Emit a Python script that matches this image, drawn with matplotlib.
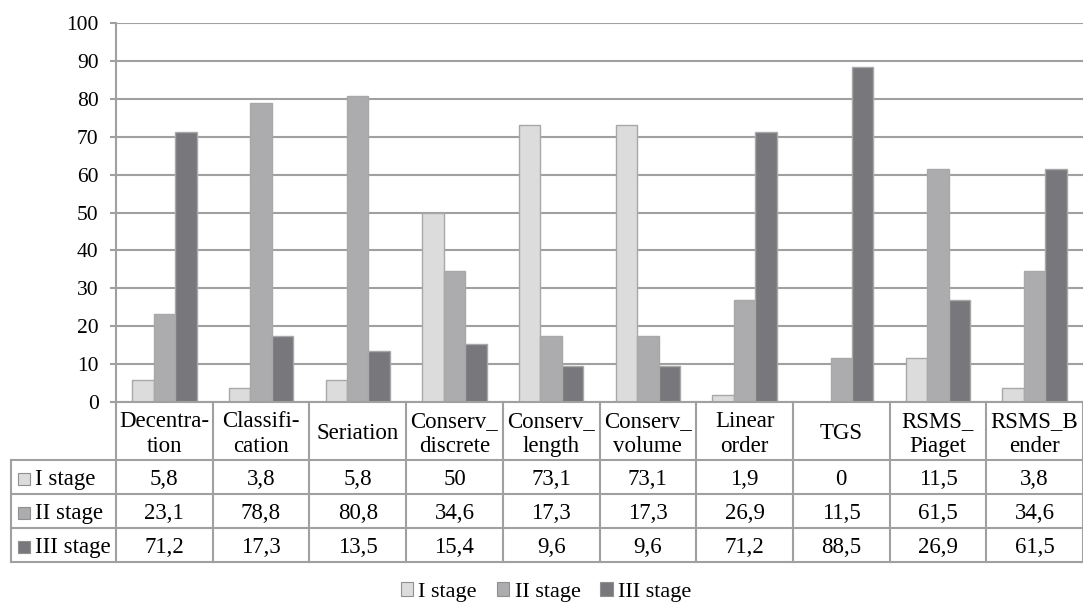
import numpy as np
import matplotlib.pyplot as plt
from matplotlib.patches import Rectangle

plt.rcParams['font.family'] = ['Liberation Serif', 'DejaVu Serif']

categories = ["Decentra-\ntion", "Classifi-\ncation", "Seriation", "Conserv_\ndiscrete",
              "Conserv_\nlength", "Conserv_\nvolume", "Linear\norder", "TGS",
              "RSMS_\nPiaget", "RSMS_B\nender"]
series_names = ["I stage", "II stage", "III stage"]
stage1 = [5.8, 3.8, 5.8, 50, 73.1, 73.1, 1.9, 0, 11.5, 3.8]
stage2 = [23.1, 78.8, 80.8, 34.6, 17.3, 17.3, 26.9, 11.5, 61.5, 34.6]
stage3 = [71.2, 17.3, 13.5, 15.4, 9.6, 9.6, 71.2, 88.5, 26.9, 61.5]
y_ticks = [0, 10, 20, 30, 40, 50, 60, 70, 80, 90, 100]

colors = ['#dcdcdc', '#acacae', '#78787c']
edge = '#a8a8a8'
line_col = '#a0a0a0'
fs = 15.5     # axis labels
fs_tab = 16.5  # table text

W, H = 1083, 603
fig = plt.figure(figsize=(W / 100, H / 100), dpi=100)

# pixel layout
left, right, top, bottom = 116, 1083, 23, 402
ax = fig.add_axes([left / W, 1 - bottom / H, (right - left) / W, (bottom - top) / H])

n = len(categories)
x = np.arange(n)
bw = 0.222
data = [stage1, stage2, stage3]
for i, vals in enumerate(data):
    ax.bar(x + (i - 1) * bw, vals, width=bw, color=colors[i], edgecolor=edge,
           linewidth=1, zorder=3, label=series_names[i])

ax.set_xlim(-0.5, n - 0.5)
ax.set_ylim(0, 100)
ax.set_yticks(y_ticks)
ax.set_yticklabels([str(t) for t in y_ticks], fontsize=fs)
ax.set_xticks([])
ax.grid(axis='y', color=line_col, linewidth=1.5, zorder=0)
for s in ['top', 'right', 'bottom']:
    ax.spines[s].set_visible(False)
ax.spines['left'].set_color(line_col)
ax.spines['left'].set_linewidth(1.5)
ax.tick_params(axis='y', color=line_col, width=1.5, length=4.5, pad=8)

# data table below the plot
tab = fig.add_axes([0, 0, 1, 1])
tab.set_xlim(0, W)
tab.set_ylim(H, 0)
tab.axis('off')

colw = (right - left) / n
row_y = [402, 460, 494, 528, 562]
tab_left = 11
lw = 1.5

tab.plot([left, right], [row_y[0], row_y[0]], color=line_col, lw=lw)
for yy in row_y[1:]:
    tab.plot([tab_left, right], [yy, yy], color=line_col, lw=lw)
tab.plot([tab_left, tab_left], [row_y[1], row_y[-1]], color=line_col, lw=lw)
for j in range(n + 1):
    xx = left + j * colw
    tab.plot([xx, xx], [row_y[0], row_y[-1]], color=line_col, lw=lw)

for j, cat in enumerate(categories):
    cx = left + (j + 0.5) * colw
    lines = cat.split('\n')
    bases = [427, 452] if len(lines) == 2 else [439]
    for line, base in zip(lines, bases):
        tab.text(cx, base, line, ha='center', va='baseline', fontsize=fs_tab)
    for r, vals in enumerate(data):
        label = ('%g' % vals[j]).replace('.', ',')
        tab.text(cx, row_y[r + 2] - 9, label, ha='center', va='baseline',
                 fontsize=fs_tab)

for r, name in enumerate(series_names):
    base = row_y[r + 2] - 9
    tab.add_patch(Rectangle((18, base - 12), 12, 12, facecolor=colors[r],
                            edgecolor='#909090', lw=0.8))
    tab.text(35, base, name, ha='left', va='baseline', fontsize=fs_tab)

# legend
handles = [Rectangle((0, 0), 1, 1, facecolor=c, edgecolor='#909090', lw=0.8) for c in colors]
fig.legend(handles, series_names, loc='center', bbox_to_anchor=(546 / W, 1 - 592 / H),
           ncol=3, frameon=False, fontsize=16, handlelength=0.55, handleheight=0.55,
           handletextpad=0.25, columnspacing=0.9, borderpad=0)

fig.savefig('out.png', dpi=100, facecolor='white')
